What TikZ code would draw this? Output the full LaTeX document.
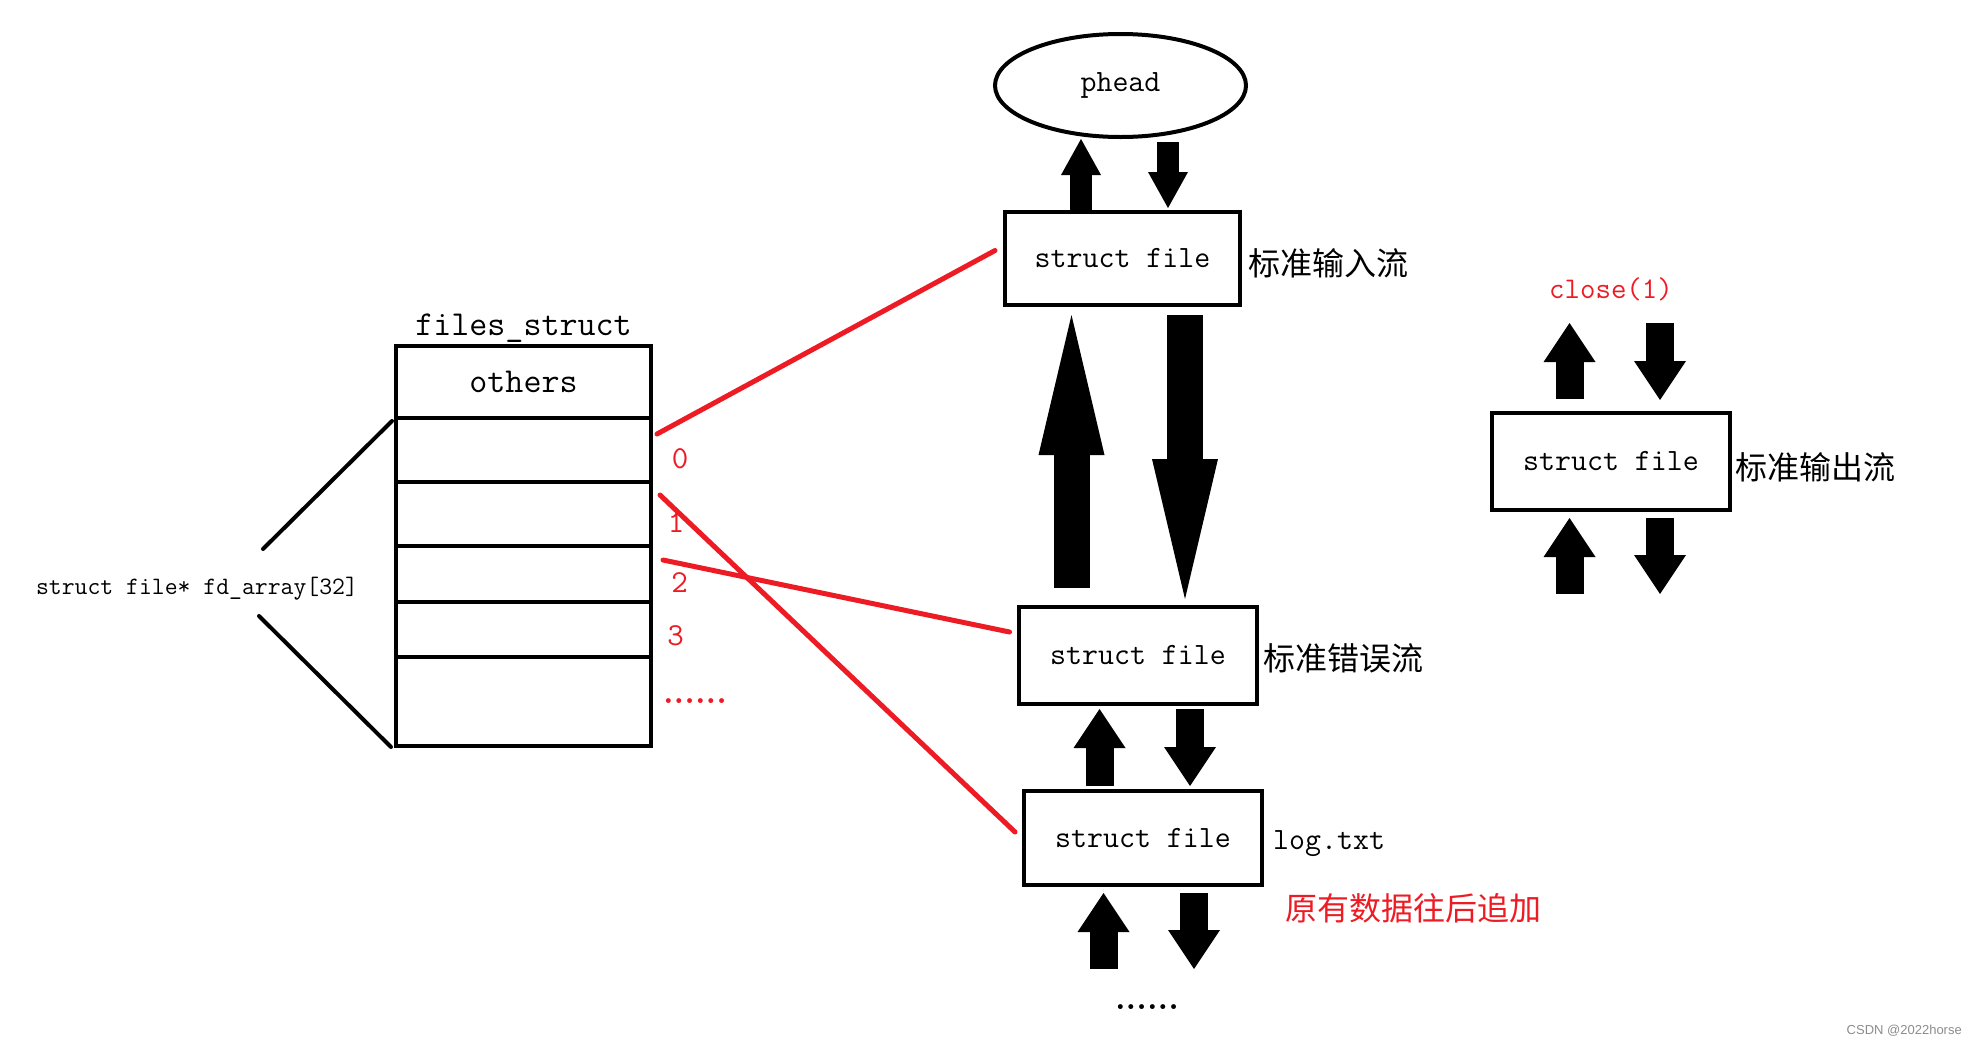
\documentclass[tikz,border=0pt]{standalone}
\usepackage{fontspec}
\newfontfamily\cjk{Noto Sans CJK SC}
\newfontfamily\wmfont{Liberation Sans}
\usetikzlibrary{arrows.meta,positioning,shapes.geometric}
\definecolor{paintred}{RGB}{237,28,36}
\newcommand{\px}[1]{\fontsize{#1pt}{#1pt}\selectfont}
\tikzset{
box/.style={draw, line width=4pt, inner sep=0pt, minimum width=238pt, minimum height=97pt, font=\ttfamily\px{31}}, % a struct file
cell/.style={draw, line width=4pt, inner sep=0pt, outer sep=0pt, minimum width=255pt, font=\ttfamily\px{35}}, % one slot of files_struct
txt/.style={inner sep=0pt, font=\ttfamily\px{31}},
tag/.style={inner sep=0pt, font=\cjk\px{32}}, % chinese names of the streams
note/.style={tag, text=paintred},
idx/.style={inner sep=0pt, text=paintred, font=\ttfamily\px{32}},
dots/.style={inner sep=0pt, anchor=base, font=\rmfamily\bfseries\px{34}},
wire/.style={line width=5pt, paintred, line cap=round}, % fd -> struct file
brace/.style={line width=4pt, line cap=round},
toparrow/.style={line width=22.5pt, -{Triangle[width=40pt,length=36pt,line width=0pt]}},
fatarrow/.style={line width=28pt, -{Triangle[width=52pt,length=39pt,line width=0pt]}},
bigarrow/.style={line width=36pt, -{Triangle[width=66pt,length=140pt,line width=0pt]}},
}

\begin{document}
\begin{tikzpicture}[x=1pt, y=-1pt]
\useasboundingbox (0,0) rectangle (1971,1042);
% files_struct
\node[cell, minimum height=72pt] (others) at (523.5,382) {others};
\node[cell, minimum height=64pt, below=0pt of others] (fd0) {};
\node[cell, minimum height=64pt, below=0pt of fd0] (fd1) {};
\node[cell, minimum height=56pt, below=0pt of fd1] (fd2) {};
\node[cell, minimum height=55pt, below=0pt of fd2] (fd3) {};
\node[cell, minimum height=89pt, below=0pt of fd3] (fd4) {};
\node[txt, font=\ttfamily\px{35}, anchor=base] (title) at ([yshift=11pt]others.north) {files\_struct};
\node[idx, anchor=base] (n0) at ([xshift=29pt,yshift=-18pt]fd0.east) {0};
\node[idx, anchor=base] (n1) at ([xshift=25pt,yshift=-18pt]fd1.east) {1};
\node[idx, anchor=base] (n2) at ([xshift=28.5pt,yshift=-18pt]fd2.east) {2};
\node[idx, anchor=base] (n3) at ([xshift=24.5pt,yshift=-15.5pt]fd3.east) {3};
\node[dots, text=paintred] (more) at ([xshift=44pt,yshift=-1.5pt]fd4.east) {......};
\node[txt, font=\ttfamily\px{25}] (fdarray) at (197,589) {struct file* fd\_array[32]};
\draw[brace] ([xshift=66pt,yshift=40pt]fdarray.center) -- ([xshift=-4pt,yshift=-3pt]fd0.north west);
\draw[brace] ([xshift=62pt,yshift=-27pt]fdarray.center) -- ([xshift=-5pt,yshift=-1pt]fd4.south west);

% the struct file list
\node[box, minimum width=235pt, minimum height=93pt] (stdin) at (1122.5,258.5) {struct file};
\node[ellipse, draw, line width=4pt, inner sep=0pt, minimum width=251pt, minimum height=103pt, font=\ttfamily\px{31}, above=71pt of stdin, xshift=-2pt] (phead) {phead};
\node[box, below=298pt of stdin, xshift=15.5pt] (stderr) {struct file};
\node[box, minimum height=94pt, below=83pt of stderr, xshift=5pt] (log) {struct file};
\node[box] (stdout) at (1611,461.5) {struct file};
\node[tag, right=6pt of stdin, yshift=-5pt] (inname) {标准输入流};
\node[tag, right=4pt of stderr, yshift=-2.5pt] (errname) {标准错误流};
\node[txt, right=9pt of log, yshift=-6pt] (logname) {log.txt};
\node[note, anchor=west] (append) at ([xshift=12pt,yshift=-64pt]logname.west) {原有数据往后追加};
\node[tag, right=3pt of stdout, yshift=-5.5pt] (outname) {标准输出流};
\node[txt, font=\ttfamily\px{30}, text=paintred, above=110pt of stdout] (close) {close(1)};
\node[dots] (tail) at ([xshift=4pt,yshift=-122pt]log.south) {......};

% fd -> struct file
\draw[wire] ([xshift=6pt,yshift=16pt]fd0.east) -- ([xshift=-8pt,yshift=8pt]stdin.west);
\draw[wire] ([xshift=9pt,yshift=19pt]fd1.east) -- ([xshift=-7pt,yshift=6pt]log.west);
\draw[wire] ([xshift=12pt,yshift=14pt]fd2.east) -- ([xshift=-7.5pt,yshift=23.5pt]stderr.west);

% links of the list
\draw[toparrow] ([xshift=-41.5pt]stdin.north) -- ([xshift=-39.5pt]phead.south);
\draw[toparrow] ([xshift=47.5pt,yshift=-3pt]phead.south) -- ([xshift=45.5pt,yshift=2pt]stdin.north);
\draw[bigarrow] ([xshift=-66.5pt,yshift=17pt]stderr.north) -- ([xshift=-51pt,yshift=-8pt]stdin.south);
\draw[bigarrow] ([xshift=62.5pt,yshift=-8pt]stdin.south) -- ([xshift=47pt,yshift=6pt]stderr.north);
\draw[fatarrow] ([xshift=-43.5pt,yshift=3pt]log.north) -- ([xshift=-38.5pt,yshift=-3pt]stderr.south);
\draw[fatarrow] ([xshift=52pt,yshift=-3pt]stderr.south) -- ([xshift=47pt,yshift=3pt]log.north);
\draw[fatarrow] ([xshift=-39.5pt,yshift=-82pt]log.south) -- ([xshift=-39.5pt,yshift=-6pt]log.south);
\draw[fatarrow] ([xshift=51pt,yshift=-6pt]log.south) -- ([xshift=51pt,yshift=-82pt]log.south);
\draw[fatarrow] ([xshift=-41.5pt,yshift=12pt]stdout.north) -- ([xshift=-41.5pt,yshift=88pt]stdout.north);
\draw[fatarrow] ([xshift=49pt,yshift=88pt]stdout.north) -- ([xshift=49pt,yshift=11pt]stdout.north);
\draw[fatarrow] ([xshift=-41.5pt,yshift=-82pt]stdout.south) -- ([xshift=-41.5pt,yshift=-6pt]stdout.south);
\draw[fatarrow] ([xshift=49pt,yshift=-6pt]stdout.south) -- ([xshift=49pt,yshift=-82pt]stdout.south);

\node[anchor=south east, inner sep=0pt, font=\wmfont\px{13}, text=black!45] (mark) at (1962,1036) {CSDN @2022horse};
\end{tikzpicture}
\end{document}
